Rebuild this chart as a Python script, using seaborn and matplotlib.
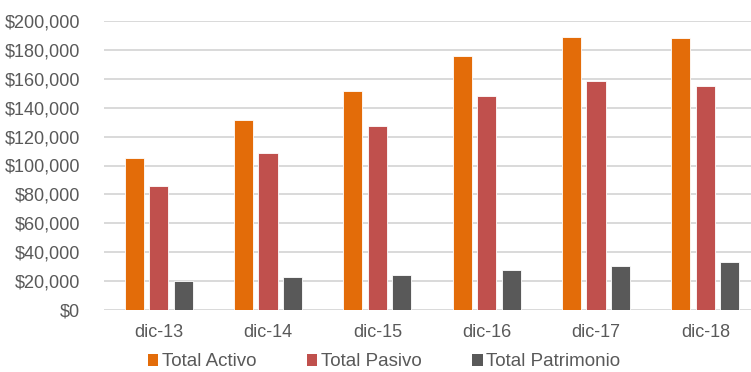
import pandas as pd
import seaborn as sns
import matplotlib.pyplot as plt
from matplotlib.ticker import FuncFormatter
from matplotlib.patches import Patch

# Data
periodos = ['dic-13', 'dic-14', 'dic-15', 'dic-16', 'dic-17', 'dic-18']
total_activo = [105500, 131500, 151500, 175800, 188700, 188000]
total_pasivo = [85800, 108900, 127600, 148300, 158500, 155200]
total_patrimonio = [20300, 23000, 24200, 27700, 30400, 33200]
series = ['Total Activo', 'Total Pasivo', 'Total Patrimonio']
colores = ['#E36C09', '#C0504D', '#595959']

df = pd.DataFrame({
    'periodo': periodos * 3,
    'serie': [series[0]] * 6 + [series[1]] * 6 + [series[2]] * 6,
    'valor': total_activo + total_pasivo + total_patrimonio,
})

sns.set_style('white')
plt.rcParams['font.family'] = ['Liberation Sans', 'DejaVu Sans']

fig = plt.figure(figsize=(7.51, 3.72), dpi=100)
ax = fig.add_axes([104 / 751, 62 / 372, 656 / 751, 289 / 372])

sns.barplot(data=df, x='periodo', y='valor', hue='serie', palette=colores,
            saturation=1, width=0.67, gap=0.22, edgecolor='white', linewidth=0.6,
            legend=False, ax=ax, zorder=3)

ax.set_ylim(0, 200000)
ax.set_yticks(range(0, 200001, 20000))
ax.yaxis.set_major_formatter(FuncFormatter(lambda v, p: f'${v:,.0f}'))
ax.grid(axis='y', color='#D9D9D9', linewidth=1.4, zorder=0)
ax.set_axisbelow(True)
for s in ax.spines.values():
    s.set_visible(False)
ax.set_xlabel('')
ax.set_ylabel('')
ax.tick_params(axis='both', length=0, labelsize=13, labelcolor='#595959')
ax.tick_params(axis='x', pad=10)
ax.tick_params(axis='y', pad=17)

handles = [Patch(facecolor=c, edgecolor='none') for c in colores]
fig.legend(handles, series, loc='center', bbox_to_anchor=(384 / 751, 1 - 362 / 372),
           ncol=3, frameon=False, fontsize=13.5, labelcolor='#595959',
           handlelength=0.55, handleheight=0.55, handletextpad=0.2,
           columnspacing=2.7, borderpad=0)

fig.savefig('out.png', dpi=100)
